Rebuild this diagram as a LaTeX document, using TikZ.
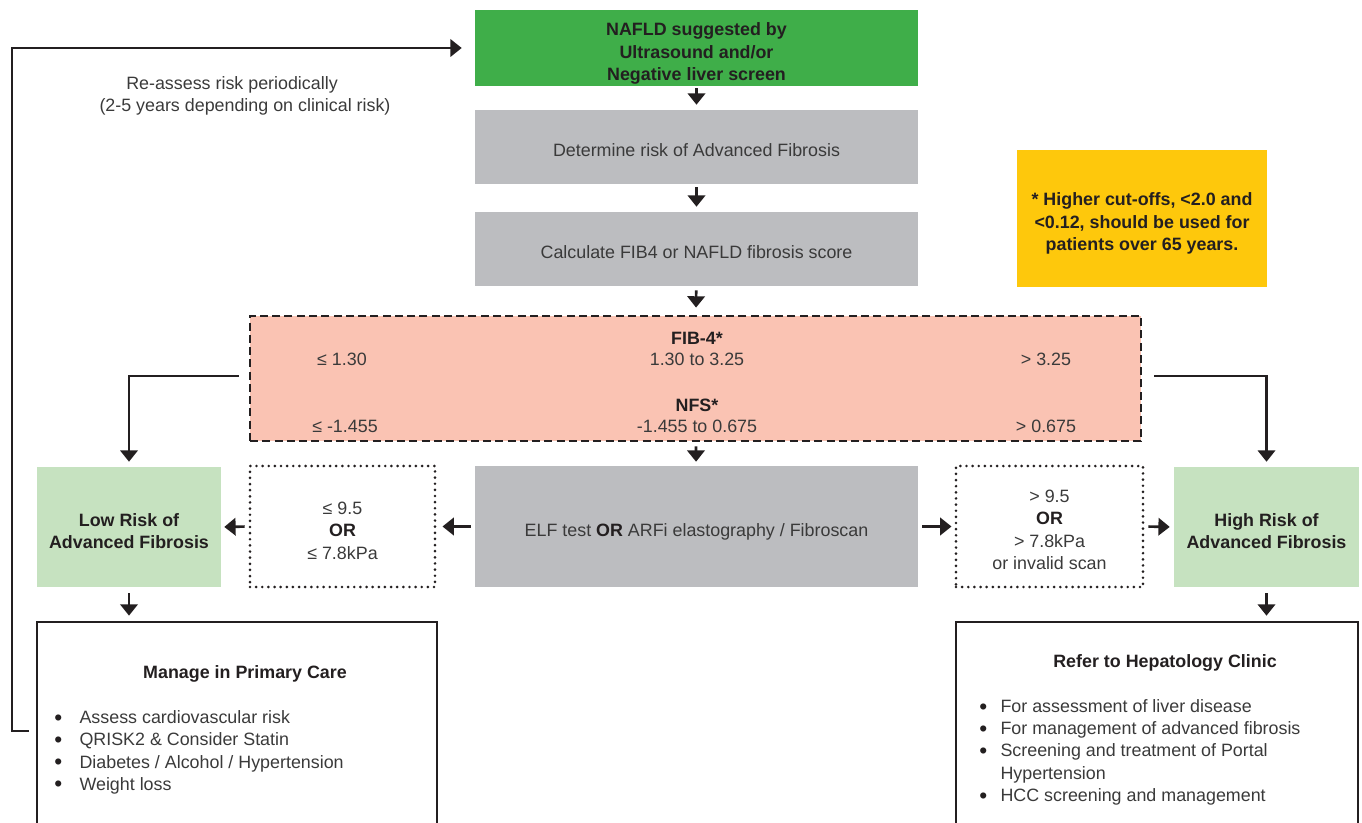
\documentclass[tikz,border=0pt]{standalone}
\usepackage{fontspec}
\setmainfont{Liberation Sans}
\usetikzlibrary{arrows.meta}
\definecolor{gbox}{HTML}{3FAE49}
\definecolor{grey}{HTML}{BCBDC0}
\definecolor{pink}{HTML}{FAC3B3}
\definecolor{lgreen}{HTML}{C6E2C0}
\definecolor{yell}{HTML}{FEC80C}
\definecolor{txt}{HTML}{3A3A3A}
\definecolor{ink}{HTML}{231F20}
\newcommand{\fsz}{\fontsize{13.4}{16.9}\selectfont}
\newcommand{\lsz}{\fontsize{13.4}{16.7}\selectfont}
\newcommand{\bul}{\raisebox{-1.2pt}{\textcolor{ink}{\fontsize{17}{16.7}\selectfont •}}}
\tikzset{
  base/.style={inner sep=0pt, align=center, font=\fsz, text=txt},
  greenbox/.style={base, fill=gbox, minimum width=332.25pt, minimum height=57pt},
  greybox/.style={base, fill=grey, minimum width=332.25pt},
  pinkbox/.style={base, fill=pink, draw=ink, line width=2.1pt, dash pattern=on 6pt off 3.2pt, minimum width=668.25pt, minimum height=93.75pt},
  dotbox/.style={base, draw=ink, line width=2.2pt, line cap=round, dash pattern=on 0pt off 4.6pt, minimum height=90.75pt},
  riskbox/.style={base, fill=lgreen, minimum width=138pt, minimum height=90pt},
  outbox/.style={base, draw=ink, line width=2pt, minimum height=163.5pt},
  yellbox/.style={base, fill=yell, minimum width=187.5pt, minimum height=102.75pt},
  lbl/.style={base},
  listlbl/.style={base, font=\lsz, align=left},
  blbl/.style={base, text=ink, font=\fsz\bfseries},
  arr/.style={draw=ink, line width=2pt, -{Triangle[width=13pt,length=8.5pt]}},
  conn/.style={draw=ink, line width=1.9pt, -{Triangle[width=13pt,length=8.5pt]}}
}
\begin{document}
\begin{tikzpicture}[x=0.75pt,y=-0.75pt]
\useasboundingbox (0,0) rectangle (1362,823);
\clip (0,0) rectangle (1362,823);

% boxes
\node[greenbox] (nafld) at (696.5,48) {};
\node[greybox, minimum height=55.5pt] (det) at (696.5,147) {};
\node[greybox, minimum height=55.5pt] (calc) at (696.5,249) {};
\node[pinkbox] (pink) at (695.5,378.5) {};
\node[greybox, minimum height=90.75pt] (elf) at (696.5,526.5) {};
\node[dotbox, minimum width=138.75pt] (ldot) at (342.5,526.5) {};
\node[dotbox, minimum width=140.25pt] (rdot) at (1049.5,526.5) {};
\node[riskbox] (low) at (129,527) {};
\node[riskbox, minimum width=138.75pt] (high) at (1266.5,527) {};
\node[outbox, minimum width=300pt] (man) at (237,731) {};
\node[outbox, minimum width=301.5pt] (ref) at (1157,731) {};
\node[yellbox] (note) at (1142,218.5) {};

% box texts
\node[blbl, yshift=-4.3pt] (nafldt) at (nafld) {NAFLD suggested by\\Ultrasound and/or\\Negative liver screen};
\node[lbl, yshift=-2.25pt] (dett) at (det) {Determine risk of Advanced Fibrosis};
\node[lbl, yshift=-2.25pt] (calct) at (calc) {Calculate FIB4 or NAFLD fibrosis score};
\node[lbl, yshift=-3.75pt] (elft) at (elf) {ELF test \textcolor{ink}{\bfseries OR} ARFi elastography / Fibroscan};
\node[lbl, yshift=-3pt] (ldott) at (ldot) {≤ 9.5\\\textcolor{ink}{\bfseries OR}\\≤ 7.8kPa};
\node[lbl, yshift=-2.6pt] (rdott) at (rdot) {> 9.5\\\textcolor{ink}{\bfseries OR}\\> 7.8kPa\\or invalid scan};
\node[blbl, yshift=-3pt] (lowt) at (low) {Low Risk of\\Advanced Fibrosis};
\node[blbl, yshift=-3pt] (hight) at (high) {High Risk of\\Advanced Fibrosis};
\node[blbl, yshift=-4pt] (notet) at (note) {* Higher cut-offs, <2.0 and\\<0.12, should be used for\\patients over 65 years.};

% pink box texts
\node[blbl] (fibt) at (697,338) {FIB-4*};
\node[lbl] (fib1) at (342,359) {≤ 1.30};
\node[lbl] (fib2) at (697,359) {1.30 to 3.25};
\node[lbl] (fib3) at (1046,359) {> 3.25};
\node[blbl] (nfst) at (697,405) {NFS*};
\node[lbl] (nfs1) at (345,426) {≤ -1.455};
\node[lbl] (nfs2) at (697,426) {-1.455 to 0.675};
\node[lbl] (nfs3) at (1046,426) {> 0.675};

% output box texts
\node[blbl] (mant) at (245,674) {Manage in Primary Care};
\node[listlbl, anchor=west] (manl) at (54,752.5) {\begin{tabular}{@{}l@{\hspace{13pt}}l@{}}
\bul&Assess cardiovascular risk\\
\bul&QRISK2 \& Consider Statin\\
\bul&Diabetes / Alcohol / Hypertension\\
\bul&Weight loss\end{tabular}};
\node[blbl] (reft) at (1165,663) {Refer to Hepatology Clinic};
\node[listlbl, anchor=west] (refl) at (979,752.5) {\begin{tabular}{@{}l@{\hspace{10pt}}l@{}}
\bul&For assessment of liver disease\\
\bul&For management of advanced fibrosis\\
\bul&Screening and treatment of Portal\\
&Hypertension\\
\bul&HCC screening and management\end{tabular}};

\node[lbl] (reas1) at (232,85) {Re-assess risk periodically};
\node[lbl] (reas2) at (245,107) {(2-5 years depending on clinical risk)};

% connectors
\draw[arr, shorten <=1.5pt, shorten >=3.75pt] (nafld) -- (det);
\draw[arr, shorten <=2.25pt, shorten >=3.75pt] (det) -- (calc);
\draw[arr, shorten <=3pt, shorten >=5.25pt] (calc) -- (pink);
\draw[arr, shorten <=3pt, shorten >=3pt] (pink) -- (elf);
\draw[arr, shorten <=3pt, shorten >=4.5pt] (elf.west) -- (ldot.east);
\draw[arr, shorten <=3pt, shorten >=2.25pt] (ldot.west) -- (low.east);
\draw[arr, shorten <=3pt, shorten >=2.25pt] (elf.east) -- (rdot.west);
\draw[arr, shorten <=3pt, shorten >=3pt] (rdot.east) -- (high.west);
\draw[conn, shorten <=7.5pt, shorten >=3.75pt] ([yshift=1.9pt]pink.west) -| (low.north);
\draw[conn, shorten <=9pt, shorten >=3.75pt] ([yshift=1.9pt]pink.east) -| (high.north);
\draw[arr, shorten <=4.5pt, shorten >=3.75pt] (low) -- (low |- man.north);
\draw[arr, shorten <=4.5pt, shorten >=3.75pt] (high) -- (high |- ref.north);
\coordinate (lp) at (12,731);
\draw[conn, shorten <=5pt, shorten >=9.75pt] (man.west) -- (lp) |- (nafld.west);
\end{tikzpicture}
\end{document}
